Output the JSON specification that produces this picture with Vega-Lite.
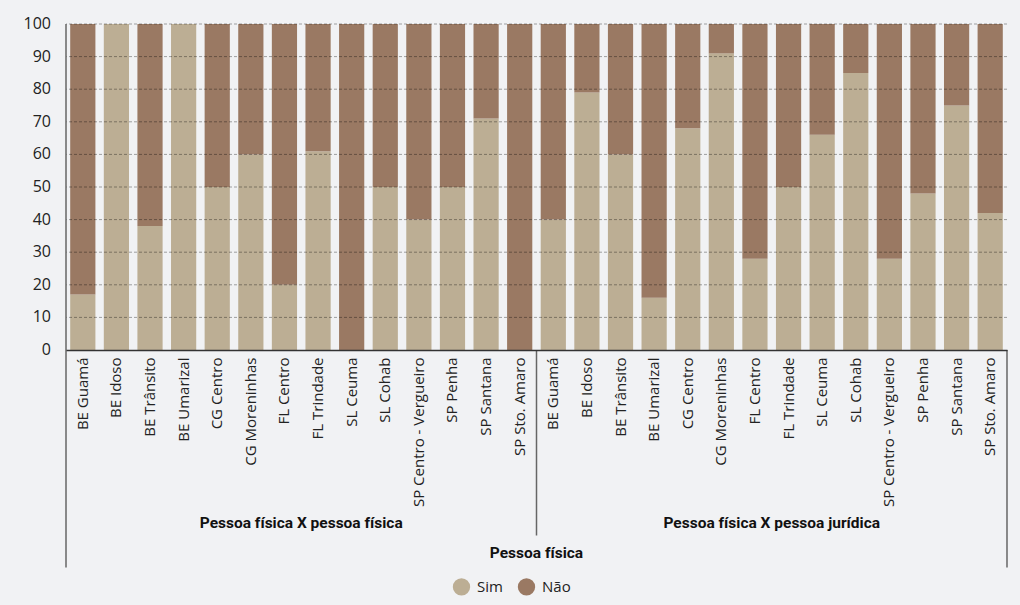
{
  "$schema": "https://vega.github.io/schema/vega-lite/v6.json",
  "width": 941,
  "height": 326,
  "autosize": {"type": "none"},
  "padding": {"left": 66, "top": 24, "right": 13, "bottom": 255},
  "background": "#f1f2f4",
  "config": {
    "view": {"stroke": null},
    "font": "Open Sans",
    "axisY": {
      "grid": false,
      "labels": false,
      "domain": false,
      "ticks": false,
      "title": null
    }
  },
  "datasets": {
    "escala": [
      {"v": 0}, {"v": 10}, {"v": 20}, {"v": 30}, {"v": 40}, {"v": 50},
      {"v": 60}, {"v": 70}, {"v": 80}, {"v": 90}, {"v": 100}
    ],
    "dados": [
      {"grupo": "Pessoa física X pessoa física", "local": "BE Guamá", "Sim": 17, "Não": 83},
      {"grupo": "Pessoa física X pessoa física", "local": "BE Idoso", "Sim": 100, "Não": 0},
      {"grupo": "Pessoa física X pessoa física", "local": "BE Trânsito", "Sim": 38, "Não": 62},
      {"grupo": "Pessoa física X pessoa física", "local": "BE Umarizal", "Sim": 100, "Não": 0},
      {"grupo": "Pessoa física X pessoa física", "local": "CG Centro", "Sim": 50, "Não": 50},
      {"grupo": "Pessoa física X pessoa física", "local": "CG Moreninhas", "Sim": 60, "Não": 40},
      {"grupo": "Pessoa física X pessoa física", "local": "FL Centro", "Sim": 20, "Não": 80},
      {"grupo": "Pessoa física X pessoa física", "local": "FL Trindade", "Sim": 61, "Não": 39},
      {"grupo": "Pessoa física X pessoa física", "local": "SL Ceuma", "Sim": 0, "Não": 100},
      {"grupo": "Pessoa física X pessoa física", "local": "SL Cohab", "Sim": 50, "Não": 50},
      {"grupo": "Pessoa física X pessoa física", "local": "SP Centro - Vergueiro", "Sim": 40, "Não": 60},
      {"grupo": "Pessoa física X pessoa física", "local": "SP Penha", "Sim": 50, "Não": 50},
      {"grupo": "Pessoa física X pessoa física", "local": "SP Santana", "Sim": 71, "Não": 29},
      {"grupo": "Pessoa física X pessoa física", "local": "SP Sto. Amaro", "Sim": 0, "Não": 100},
      {"grupo": "Pessoa física X pessoa jurídica", "local": "BE Guamá", "Sim": 40, "Não": 60},
      {"grupo": "Pessoa física X pessoa jurídica", "local": "BE Idoso", "Sim": 79, "Não": 21},
      {"grupo": "Pessoa física X pessoa jurídica", "local": "BE Trânsito", "Sim": 60, "Não": 40},
      {"grupo": "Pessoa física X pessoa jurídica", "local": "BE Umarizal", "Sim": 16, "Não": 84},
      {"grupo": "Pessoa física X pessoa jurídica", "local": "CG Centro", "Sim": 68, "Não": 32},
      {"grupo": "Pessoa física X pessoa jurídica", "local": "CG Moreninhas", "Sim": 91, "Não": 9},
      {"grupo": "Pessoa física X pessoa jurídica", "local": "FL Centro", "Sim": 28, "Não": 72},
      {"grupo": "Pessoa física X pessoa jurídica", "local": "FL Trindade", "Sim": 50, "Não": 50},
      {"grupo": "Pessoa física X pessoa jurídica", "local": "SL Ceuma", "Sim": 66, "Não": 34},
      {"grupo": "Pessoa física X pessoa jurídica", "local": "SL Cohab", "Sim": 85, "Não": 15},
      {"grupo": "Pessoa física X pessoa jurídica", "local": "SP Centro - Vergueiro", "Sim": 28, "Não": 72},
      {"grupo": "Pessoa física X pessoa jurídica", "local": "SP Penha", "Sim": 48, "Não": 52},
      {"grupo": "Pessoa física X pessoa jurídica", "local": "SP Santana", "Sim": 75, "Não": 25},
      {"grupo": "Pessoa física X pessoa jurídica", "local": "SP Sto. Amaro", "Sim": 42, "Não": 58}
    ]
  },
  "layer": [
    {
      "data": {"name": "dados"},
      "transform": [
        {"calculate": "datum.grupo + '|' + datum.local", "as": "k"},
        {"fold": ["Sim", "Não"], "as": ["resposta", "valor"]}
      ],
      "mark": {"type": "bar"},
      "encoding": {
        "x": {
          "field": "k", "type": "nominal", "sort": null,
          "scale": {"paddingInner": 0.25, "paddingOuter": 0.125},
          "axis": {
            "title": null,
            "labelExpr": "split(datum.label, '|')[1]",
            "labelAngle": -90,
            "labelAlign": "right",
            "labelBaseline": "middle",
            "labelFontSize": 15,
            "labelColor": "#222",
            "labelPadding": 7,
            "labelOverlap": false,
            "ticks": false,
            "domainColor": "#333",
            "domainWidth": 1.5,
            "zindex": 2
          }
        },
        "y": {
          "field": "valor", "type": "quantitative", "stack": "zero",
          "scale": {"domain": [0, 100], "nice": false}
        },
        "color": {
          "field": "resposta", "type": "nominal",
          "scale": {"domain": ["Sim", "Não"], "range": ["#bcae94", "#9a7963"]},
          "legend": {
            "title": null,
            "orient": "none",
            "direction": "horizontal",
            "legendX": 386,
            "legendY": 553,
            "symbolType": "circle",
            "symbolSize": 300,
            "symbolOpacity": 1,
            "labelFontSize": 15,
            "labelColor": "#222",
            "columnPadding": 14,
            "labelOffset": 6
          }
        },
        "order": {"field": "resposta", "sort": "descending"}
      }
    },
    {
      "data": {"name": "escala"},
      "transform": [{"filter": "datum.v > 0"}],
      "mark": {"type": "rule", "color": "#000", "opacity": 0.35, "strokeWidth": 1, "strokeDash": [3, 2]},
      "encoding": {
        "y": {"field": "v", "type": "quantitative"}
      }
    },
    {
      "data": {"name": "escala"},
      "mark": {"type": "text", "align": "right", "baseline": "middle", "fontSize": 16, "color": "#222", "xOffset": -19.2},
      "encoding": {
        "x": {"datum": "Pessoa física X pessoa física|BE Guamá", "type": "nominal", "bandPosition": 0},
        "y": {"field": "v", "type": "quantitative"},
        "text": {"field": "v", "type": "quantitative"}
      }
    },
    {
      "data": {"name": "dados"},
      "transform": [
        {"calculate": "datum.grupo + '|' + datum.local", "as": "k"},
        {"filter": "datum.local == 'BE Guamá' && datum.grupo == 'Pessoa física X pessoa física'"}
      ],
      "mark": {"type": "rule", "color": "#666", "strokeWidth": 1.5, "xOffset": -4.2},
      "encoding": {
        "x": {"field": "k", "type": "nominal", "sort": null, "bandPosition": 0},
        "y": {"datum": 100},
        "y2": {"datum": -66.7}
      }
    },
    {
      "data": {"name": "dados"},
      "transform": [
        {"calculate": "datum.grupo + '|' + datum.local", "as": "k"},
        {"filter": "datum.local == 'BE Guamá' && datum.grupo == 'Pessoa física X pessoa jurídica'"}
      ],
      "mark": {"type": "rule", "color": "#666", "strokeWidth": 1.5, "xOffset": -4.2},
      "encoding": {
        "x": {"field": "k", "type": "nominal", "sort": null, "bandPosition": 0},
        "y": {"datum": 0},
        "y2": {"datum": -56.9}
      }
    },
    {
      "data": {"name": "dados"},
      "transform": [
        {"calculate": "datum.grupo + '|' + datum.local", "as": "k"},
        {"filter": "datum.local == 'SP Sto. Amaro' && datum.grupo == 'Pessoa física X pessoa jurídica'"}
      ],
      "mark": {"type": "rule", "color": "#666", "strokeWidth": 1.5, "xOffset": 4.2},
      "encoding": {
        "x": {"field": "k", "type": "nominal", "sort": null, "bandPosition": 1},
        "y": {"datum": 0},
        "y2": {"datum": -66.7}
      }
    },
    {
      "data": {"name": "dados"},
      "transform": [
        {"calculate": "datum.grupo + '|' + datum.local", "as": "k"},
        {"filter": "datum.local == 'FL Trindade'"}
      ],
      "mark": {"type": "text", "fontWeight": "bold", "fontSize": 15.5, "font": "Roboto", "color": "#111", "baseline": "middle", "align": "center", "xOffset": -4.2},
      "encoding": {
        "x": {"field": "k", "type": "nominal", "sort": null, "bandPosition": 0},
        "y": {"datum": -53.2},
        "text": {"field": "grupo"}
      }
    },
    {
      "data": {"name": "dados"},
      "transform": [
        {"calculate": "datum.grupo + '|' + datum.local", "as": "k"},
        {"filter": "datum.local == 'BE Guamá' && datum.grupo == 'Pessoa física X pessoa jurídica'"}
      ],
      "mark": {"type": "text", "fontWeight": "bold", "fontSize": 15.5, "font": "Roboto", "color": "#111", "baseline": "middle", "align": "center", "xOffset": -4.2},
      "encoding": {
        "x": {"field": "k", "type": "nominal", "sort": null, "bandPosition": 0},
        "y": {"datum": -62.4},
        "text": {"value": "Pessoa física"}
      }
    }
  ]
}
